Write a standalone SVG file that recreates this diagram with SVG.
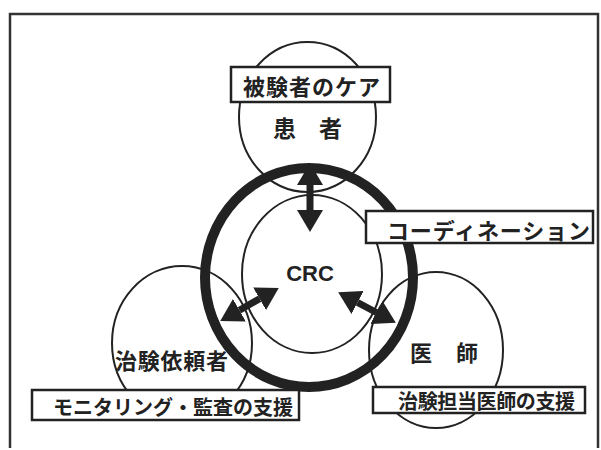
<svg xmlns="http://www.w3.org/2000/svg" width="601" height="450" viewBox="0 0 601 450">
<defs>
<style>
.thin{fill:none;stroke:#222;stroke-width:2}
.thick{fill:none;stroke:#222;stroke-width:10}
.box{fill:#fff;stroke:#222;stroke-width:2.5}
.jp{font-family:"Noto Sans CJK JP","Noto Sans CJK SC",sans-serif;font-weight:bold;fill:#222;dominant-baseline:central}
.en{font-family:"Liberation Sans",Arial,sans-serif;font-weight:bold;fill:#222;dominant-baseline:central}
.shaft{stroke:#222;stroke-width:7;fill:none}
</style>
<marker id="ah" markerUnits="userSpaceOnUse" markerWidth="22" markerHeight="26" refX="0" refY="13" orient="auto-start-reverse" viewBox="0 0 22 26">
<path d="M0,0 L22,13 L0,26 z" fill="#222"/>
</marker>
</defs>
<rect width="601" height="450" fill="#fff"/>
<path d="M10,448 L10,14 L598,14 L598,448" fill="none" stroke="#333" stroke-width="2.5"/>

<g id="patient">
<ellipse class="thin" cx="307.5" cy="117" rx="68.5" ry="75"/>
<text class="jp" x="273" y="127" font-size="23" textLength="69" lengthAdjust="spacing">患者</text>
</g>
<g id="sponsor">
<ellipse class="thin" cx="182" cy="343" rx="70" ry="77"/>
<text class="jp" x="115" y="359" font-size="22" textLength="113" lengthAdjust="spacing">治験依頼者</text>
</g>
<g id="doctor">
<ellipse class="thin" cx="436" cy="350" rx="67" ry="78"/>
<text class="jp" x="410" y="351" font-size="22" textLength="68" lengthAdjust="spacing">医師</text>
</g>
<g id="crc">
<ellipse class="thin" cx="312" cy="274" rx="70" ry="79"/>
<text class="en" x="310" y="273" font-size="22" text-anchor="middle">CRC</text>
</g>
<g id="coordination-ring">
<ellipse class="thick" cx="309" cy="277.5" rx="104" ry="109.5"/>
</g>

<g id="connectors">
<line class="shaft" x1="310" y1="185" x2="310" y2="210" marker-start="url(#ah)" marker-end="url(#ah)"/>
<line class="shaft" x1="239.4" y1="310.2" x2="259.6" y2="298.8" marker-start="url(#ah)" marker-end="url(#ah)"/>
<line class="shaft" x1="357.6" y1="302.5" x2="376.4" y2="312.5" marker-start="url(#ah)" marker-end="url(#ah)"/>
</g>

<g id="label-care">
<rect class="box" x="231" y="67" width="159" height="35"/>
<text class="jp" x="243" y="85" font-size="22" textLength="137" lengthAdjust="spacing">被験者のケア</text>
</g>
<g id="label-coordination">
<rect class="box" x="366" y="211" width="227" height="32"/>
<text class="jp" x="387" y="229" font-size="22" textLength="203" lengthAdjust="spacing">コーディネーション</text>
</g>
<g id="label-monitoring">
<rect class="box" x="32" y="390" width="267" height="30"/>
<text class="jp" x="53" y="406" font-size="20" textLength="240" lengthAdjust="spacing">モニタリング・監査の支援</text>
</g>
<g id="label-support">
<rect class="box" x="373" y="387" width="212" height="26"/>
<text class="jp" x="398" y="400" font-size="20" textLength="177" lengthAdjust="spacing">治験担当医師の支援</text>
</g>
</svg>
